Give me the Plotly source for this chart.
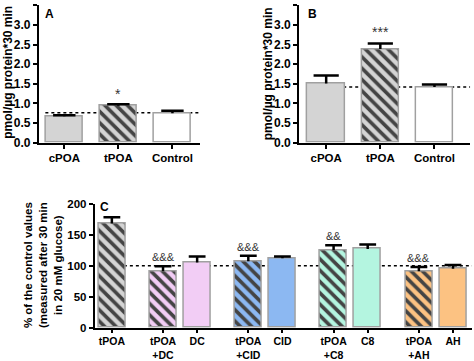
import plotly.graph_objects as go

# Panel A
cats_ab = ["cPOA", "tPOA", "Control"]
a_vals = [0.67, 0.94, 0.75]
a_err = [0.03, 0.04, 0.06]
a_ref = 0.76

# Panel B
b_vals = [1.51, 2.39, 1.42]
b_err = [0.20, 0.14, 0.06]
b_ref = 1.42

# Panel C
c_labels = ["tPOA", "tPOA<br>+DC", "DC", "tPOA<br>+CID", "CID",
            "tPOA<br>+C8", "C8", "tPOA<br>+AH", "AH"]
c_group = [0, 1, 1, 2, 2, 3, 3, 4, 4]
c_vals = [168, 91, 105, 107, 112, 125, 127, 91, 95]
c_err = [10, 8, 10, 9, 3, 8, 7, 7, 6]
c_marks = ["", "&&&", "", "&&&", "", "&&", "", "&&&", ""]
c_ref = 100

grey = "#d4d4d4"
stripe = "#5e5e5e"
outline = "#a0a0a0"
ab_colors = [grey, grey, "#ffffff"]
ab_hatch = [False, True, False]
c_colors = [grey, "#f2cdf5", "#f2cdf5", "#8cb8f2", "#8cb8f2",
            "#b4f5e0", "#b4f5e0", "#fcc282", "#fcc282"]
c_hatch = [True, True, False, True, False, True, False, True, False]

FONT = "Liberation Sans, Arial, sans-serif"

# x positions for C: wider gap between groups
c_x = []
pos = 0.0
for i, g in enumerate(c_group):
    if i > 0:
        pos += 1.5 if g != c_group[i - 1] else 1.0
    c_x.append(pos)


def add_bars(fig, x, y, err, colors, hatch, width, cap, xa, ya):
    # bars with an upward error stem (no caps)
    fig.add_trace(go.Bar(
        x=x, y=y, width=width, xaxis=xa, yaxis=ya, showlegend=False,
        marker=dict(
            color=colors,
            line=dict(color=outline, width=1.5),
            pattern=dict(shape=["\\" if h else "" for h in hatch],
                         fgcolor=stripe, fgopacity=1,
                         size=8, solidity=0.45, fillmode="overlay"),
        ),
        error_y=dict(type="data", array=err, arrayminus=[0] * len(err),
                     symmetric=False, color="black", thickness=2.5, width=0),
    ))
    # caps on top of the stems
    fig.add_trace(go.Scatter(
        x=x, y=[v + e for v, e in zip(y, err)], mode="markers",
        xaxis=xa, yaxis=ya, showlegend=False, hoverinfo="skip",
        marker=dict(symbol="line-ew", size=cap,
                    line=dict(color="black", width=2.5)),
    ))


fig = go.Figure()
ab_x = list(range(len(cats_ab)))
add_bars(fig, ab_x, a_vals, a_err, ab_colors, ab_hatch, 0.69, 16, "x", "y")
add_bars(fig, ab_x, b_vals, b_err, ab_colors, ab_hatch, 0.69, 18, "x2", "y2")
add_bars(fig, c_x, c_vals, c_err, c_colors, c_hatch, 0.79, 12, "x3", "y3")

tickfont = dict(family=FONT, size=12, color="black", weight="bold")
xtickfont = dict(family=FONT, size=11.5, color="black", weight="bold")
axis_common = dict(showline=True, linecolor="black", linewidth=2,
                   ticks="outside", ticklen=4, tickwidth=2, tickcolor="black",
                   showgrid=False, zeroline=False, automargin=False)

c_axis = dict(axis_common, ticklen=3)

fig.update_layout(
    width=474, height=361,
    margin=dict(l=0, r=0, t=0, b=0, autoexpand=False),
    plot_bgcolor="white", paper_bgcolor="white",
    bargap=0,
    xaxis=dict(domain=[0.082, 0.422], range=[-0.47, 2.51], anchor="y",
               tickvals=ab_x, ticktext=cats_ab, tickfont=xtickfont, **axis_common),
    yaxis=dict(domain=[0.605, 0.985], range=[0, 3.5], anchor="x",
               tickvals=[0, 0.5, 1, 1.5, 2, 2.5, 3, 3.5], tickformat=".1f",
               tickfont=tickfont, **axis_common),
    xaxis2=dict(domain=[0.631, 0.992], range=[-0.5, 2.66], anchor="y2",
                tickvals=ab_x, ticktext=cats_ab, tickfont=xtickfont, **axis_common),
    yaxis2=dict(domain=[0.605, 0.985], range=[0, 3.5], anchor="x2",
                tickvals=[0, 0.5, 1, 1.5, 2, 2.5, 3, 3.5], tickformat=".1f",
                tickfont=tickfont, **axis_common),
    xaxis3=dict(domain=[0.2, 0.996], range=[-0.5, c_x[-1] + 0.56], anchor="y3",
                tickvals=c_x, ticktext=c_labels,
                tickfont=dict(family=FONT, size=10.5, color="black", weight="bold"),
                **c_axis),
    yaxis3=dict(domain=[0.092, 0.436], range=[0, 200], anchor="x3",
                tickvals=[0, 50, 100, 150, 200],
                tickfont=dict(family=FONT, size=11.5, color="black", weight="bold"),
                **axis_common),
)

# dotted reference lines (below bars)
for xa, ya, x0, x1, ref in [("x", "y", -0.35, 2.51, a_ref),
                            ("x2", "y2", -0.35, 2.66, b_ref),
                            ("x3", "y3", 0, c_x[-1] + 0.56, c_ref)]:
    fig.add_shape(type="line", xref=xa, yref=ya, x0=x0, x1=x1, y0=ref, y1=ref,
                  line=dict(color="black", width=1.5, dash="dot"), layer="below")

title_font = dict(family=FONT, size=12, color="black", weight="bold")
centered = dict(xref="paper", yref="paper", xanchor="center", yanchor="middle",
                showarrow=False)
fig.add_annotation(text="pmol/µg protein*30 min", x=0.018, y=0.80, textangle=-90,
                   font=title_font, **centered)
fig.add_annotation(text="pmol/µg protein*30 min", x=0.566, y=0.795, textangle=-90,
                   font=title_font, **centered)
fig.add_annotation(text="% of the control values<br>(measured after 30 min<br>in 20 mM glucose)",
                   x=0.091, y=0.266, textangle=-90,
                   font=dict(title_font, size=11.5), **centered)

letter_font = dict(family=FONT, size=12, color="black", weight="bold")
fig.add_annotation(text="A", x=49 / 474, y=1 - 14 / 361, font=letter_font, **centered)
fig.add_annotation(text="B", x=312 / 474, y=1 - 14 / 361, font=letter_font, **centered)
fig.add_annotation(text="C", x=104 / 474, y=1 - 207 / 361, font=letter_font, **centered)

mark_font = dict(family=FONT, size=14, color="#333333")
fig.add_annotation(text="*", x=1, y=a_vals[1] + a_err[1], xref="x", yref="y",
                   yanchor="bottom", yshift=0, showarrow=False, font=mark_font)
fig.add_annotation(text="***", x=1, y=b_vals[1] + b_err[1], xref="x2", yref="y2",
                   yanchor="bottom", yshift=1, showarrow=False, font=mark_font)
for xv, v, e, m in zip(c_x, c_vals, c_err, c_marks):
    if m:
        fig.add_annotation(text=m, x=xv, y=v + e, xref="x3", yref="y3",
                           yanchor="bottom", yshift=1, showarrow=False,
                           font=dict(family=FONT, size=11, color="#333333"))

# page body has a default 8px margin; remove it so the figure sits at (0, 0)
fig.write_html("out.html", config={"displayModeBar": False},
               post_script="document.body.style.margin='0';")
